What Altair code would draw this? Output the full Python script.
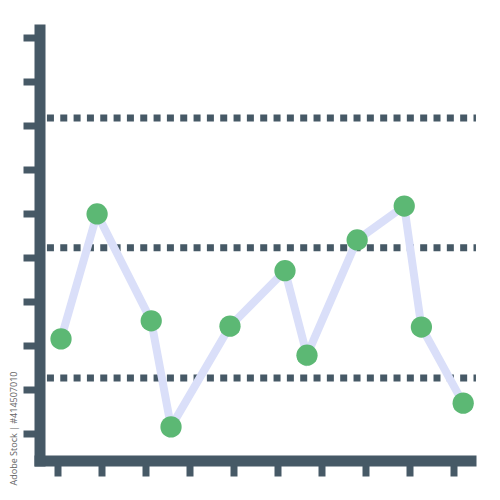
import altair as alt
import pandas as pd

# Series values (in axis tick units)
xs = [0.08, 0.90, 2.13, 2.58, 3.92, 5.17, 5.67, 6.81, 7.88, 8.27, 9.22]
ys = [2.15, 4.99, 2.56, 0.15, 2.44, 3.70, 1.78, 4.40, 5.17, 2.42, 0.69]
# Dotted reference levels
levels = [7.17, 4.22, 1.26]
ref_x_start = -0.24
ref_x_end = 9.51
tick_values = list(range(10))
watermark = ["Adobe Stock | #414507010"]

DARK = "#465966"
GREEN = "#5CB874"
LAVENDER = "#DADFF9"

pts = pd.DataFrame({"x": xs, "y": ys, "order": list(range(len(xs)))})
refs = pd.DataFrame({"y": levels, "x1": [ref_x_start] * 3, "x2": [ref_x_end] * 3})
wm = pd.DataFrame({"t": watermark})

xscale = alt.Scale(domain=[-0.409, 9.386], nice=False, zero=False)
yscale = alt.Scale(domain=[-0.614, 9.182], nice=False, zero=False)

xaxis = alt.Axis(values=tick_values, labels=False, title=None, grid=False,
                 domainColor=DARK, domainWidth=11, domainCap="square",
                 tickColor=DARK, tickWidth=7, tickSize=15.5)
yaxis = alt.Axis(values=tick_values, labels=False, title=None, grid=False,
                 domainColor=DARK, domainWidth=11, domainCap="square",
                 tickColor=DARK, tickWidth=7, tickSize=16.5)

rules = alt.Chart(refs).mark_rule(color=DARK, strokeWidth=7, strokeDash=[7, 6.33]).encode(
    x=alt.X("x1:Q", scale=xscale, axis=xaxis),
    x2="x2:Q",
    y=alt.Y("y:Q", scale=yscale, axis=yaxis),
)

line = alt.Chart(pts).mark_line(color=LAVENDER, strokeWidth=8).encode(
    x=alt.X("x:Q", scale=xscale),
    y=alt.Y("y:Q", scale=yscale),
    order="order:Q",
)

points = alt.Chart(pts).mark_circle(color=GREEN, opacity=1, size=452).encode(
    x=alt.X("x:Q", scale=xscale),
    y=alt.Y("y:Q", scale=yscale),
)

text = alt.Chart(wm).mark_text(angle=270, align="center", baseline="middle",
                               fontSize=9, color="#666666", font="Open Sans").encode(
    x=alt.value(-25.5),
    y=alt.value(399),
    text="t:N",
)

chart = alt.layer(rules, line, points, text).properties(
    width=431, height=431,
    background="white",
    padding={"left": 31.5, "top": 21.5, "right": 21.5, "bottom": 31.5},
    autosize=alt.AutoSizeParams(type="none"),
).configure_view(strokeWidth=0, stroke="transparent")

chart.save("out.html", embed_options={"renderer": "svg", "actions": False})
